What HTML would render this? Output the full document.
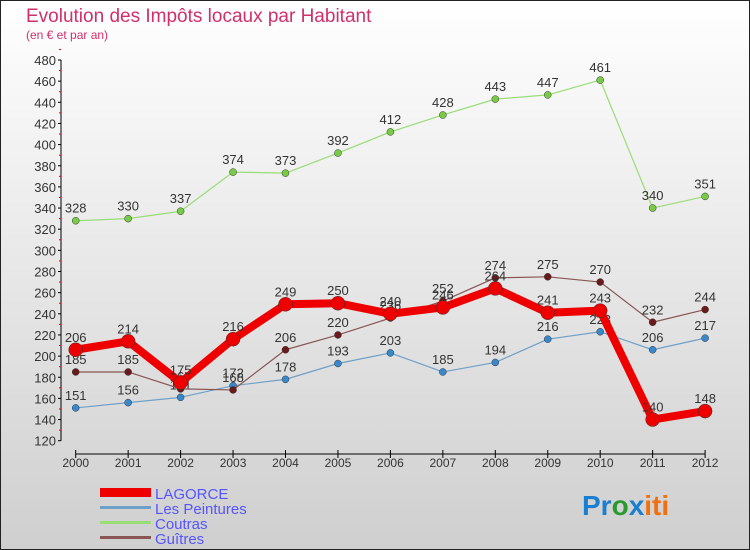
<!DOCTYPE html>
<html><head><meta charset="utf-8"><style>
body{margin:0;width:750px;height:550px;overflow:hidden;font-family:"Liberation Sans",sans-serif}
svg{display:block}
</style></head><body>
<svg width="750" height="550">
<defs><linearGradient id="bg" x1="0" y1="0" x2="0" y2="1"><stop offset="0" stop-color="#ffffff"/><stop offset="1" stop-color="#cfcfcf"/></linearGradient></defs>
<rect x="0.5" y="0.5" width="749" height="549" fill="url(#bg)" stroke="#222"/>
<text x="26" y="22" font-size="19" fill="#d0306a">Evolution des Impôts locaux par Habitant</text>
<text x="26" y="39" font-size="12" fill="#d0306a">(en € et par an)</text>
<g id="axes"></g><g id="series"></g>
<g font-size="15" fill="#5555ff">
<rect x="100" y="488" width="51" height="9" fill="#ee0000"/>
<text x="155" y="499">LAGORCE</text>
<rect x="100" y="506" width="51" height="3" fill="#6fa0c8"/>
<text x="155" y="514">Les Peintures</text>
<rect x="100" y="521" width="51" height="3" fill="#99dd77"/>
<text x="155" y="529">Coutras</text>
<rect x="100" y="536" width="51" height="3" fill="#8a5555"/>
<text x="155" y="544">Guîtres</text>
</g>
<g font-size="28" font-weight="bold">
<text x="582" y="515"><tspan fill="#1a7fd0">Pr</tspan><tspan fill="#2a9a30">o</tspan><tspan fill="#1a7fd0">x</tspan><tspan fill="#f07010">iti</tspan></text>
</g>
</svg>
<script>
const years=[2000,2001,2002,2003,2004,2005,2006,2007,2008,2009,2010,2011,2012];
const lagorce=[206,214,175,216,249,250,240,246,264,241,243,140,148];
const lesPeintures=[151,156,161,172,178,193,203,185,194,216,223,206,217];
const coutras=[328,330,337,374,373,392,412,428,443,447,461,340,351];
const guitres=[185,185,169,168,206,220,236,252,274,275,270,232,244];
const yTicks=[120,140,160,180,200,220,240,260,280,300,320,340,360,380,400,420,440,460,480];
const NS="http://www.w3.org/2000/svg";
const X=i=>75.7+i*52.45;
const Y=v=>440.7-(v-120)*1.0575;
function mk(t,a,p){const e=document.createElementNS(NS,t);for(const k in a)e.setAttribute(k,a[k]);p.appendChild(e);return e;}
const ax=document.getElementById('axes');
let yl=mk('line',{x1:61,y1:Y(480),x2:61,y2:Y(120),stroke:'#000'},ax);


yTicks.forEach(v=>{
 mk('line',{x1:58,y1:Y(v),x2:61,y2:Y(v),stroke:'#000'},ax);
 mk('line',{x1:59,y1:Y(v+10),x2:61,y2:Y(v+10),stroke:'#e00'},ax);
 const t=mk('text',{x:56,y:Y(v)+5,'font-size':13,'text-anchor':'end',fill:'#333'},ax);t.textContent=v;
 
 
});
let xl=mk('line',{x1:X(0),y1:454,x2:X(12),y2:454,stroke:'#000'},ax);


years.forEach((y,i)=>{
 mk('line',{x1:X(i),y1:450,x2:X(i),y2:458,stroke:'#000'},ax);
 const t=mk('text',{x:X(i),y:467,'font-size':12,'text-anchor':'middle',fill:'#333'},ax);t.textContent=y;
 
 
});
const sg=document.getElementById('series');
function series(d,name,col,dot,w,r){
 const g=mk('g',{},sg);
 
 
 mk('polyline',{points:d.map((v,i)=>X(i)+','+Y(v)).join(' '),fill:'none',stroke:col,'stroke-width':w,'stroke-linejoin':'round'},g);
 d.forEach((v,i)=>{
  const c=mk('circle',{cx:X(i),cy:Y(v),r:r,fill:dot,stroke:'#333','stroke-width':0.5},g);
  
  
  const t=mk('text',{x:X(i),y:Y(v)-8,'font-size':13,'text-anchor':'middle',fill:'#333'},g);t.textContent=v;
  
  
 });
}
series(coutras,'coutras','#99dd77','#77cc44',1.2,3.5);
series(lesPeintures,'les-peintures','#6fa0c8','#3a88cc',1.2,3.5);
series(guitres,'guitres','#8a5555','#6a1a1a',1.2,3.5);
series(lagorce,'lagorce','#ee0000','#ee0000',8,7);
</script>
</body></html>
